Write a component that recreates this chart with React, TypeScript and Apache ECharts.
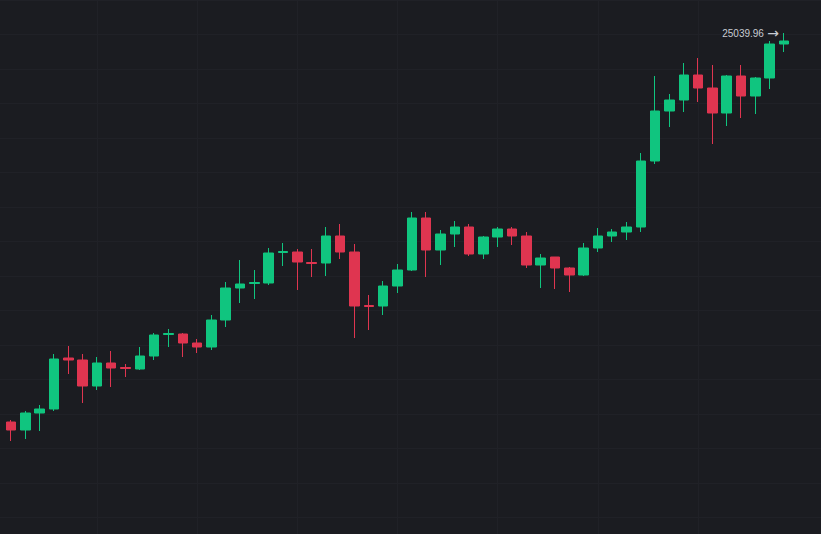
import React, { useEffect, useRef } from "react";
import * as echarts from "echarts";

const categories = [
  "01-01","01-02","01-03","01-04","01-05","01-06","01-07","01-08","01-09","01-10",
  "01-11","01-12","01-13","01-14","01-15","01-16","01-17","01-18","01-19","01-20",
  "01-21","01-22","01-23","01-24","01-25","01-26","01-27","01-28","01-29","01-30",
  "01-31","02-01","02-02","02-03","02-04","02-05","02-06","02-07","02-08","02-09",
  "02-10","02-11","02-12","02-13","02-14","02-15","02-16","02-17","02-18","02-19",
  "02-20","02-21","02-22","02-23","02-24",
];

const opens = [
  17260, 17100, 17440, 17520, 18540, 18500, 17980, 18440, 18350, 18320,
  18580, 19010, 19020, 18840, 18760, 19300, 19940, 20030, 20040, 20650,
  20660, 20450, 20440, 20980, 20660, 19590, 19580, 19980, 20300, 21340,
  20700, 21020, 21160, 20620, 20960, 21120, 20980, 20400, 20560, 20340,
  20200, 20740, 20980, 21060, 21160, 22480, 23480, 23700, 24200, 23940,
  23440, 24180, 23780, 24140, 24820,
];

const closes = [
  17100, 17440, 17520, 18520, 18500, 17980, 18440, 18340, 18330, 18580,
  19000, 19030, 18840, 18760, 19300, 19940, 20020, 20050, 20640, 20670,
  20460, 20430, 20980, 20660, 19580, 19570, 19980, 20300, 21340, 20700,
  21020, 21160, 20620, 20960, 21120, 20980, 20400, 20540, 20340, 20200,
  20740, 20980, 21060, 21160, 22480, 23480, 23700, 24200, 23940, 23440,
  24180, 23780, 24140, 24820, 24880,
];

const lows = [
  16880, 16920, 17080, 17480, 18220, 17640, 17900, 17960, 18160, 18300,
  18500, 18760, 18560, 18640, 18700, 19160, 19640, 19720, 20000, 20380,
  19900, 20160, 20180, 20520, 18940, 19100, 19400, 19840, 20280, 20160,
  20400, 20760, 20580, 20520, 20760, 20800, 20340, 19940, 19920, 19860,
  20180, 20660, 20860, 20900, 21060, 22420, 23160, 23460, 23660, 22820,
  23180, 23340, 23420, 23920, 24660,
];

const highs = [
  17300, 17480, 17600, 18620, 18780, 18620, 18560, 18680, 18420, 18760,
  19040, 19120, 19040, 18920, 19400, 20060, 20500, 20300, 20740, 20840,
  20720, 20720, 21160, 21220, 20820, 19800, 20080, 20420, 21460, 21460,
  21100, 21280, 21220, 20980, 21160, 21160, 21060, 20620, 20560, 20360,
  20840, 21140, 21120, 21260, 22640, 24180, 23820, 24440, 24540, 24400,
  24200, 24400, 24160, 24880, 25039.96,
];

const lastPriceLabel = 25039.96;

const UP = "#10c57f";
const DOWN = "#df3550";
const BG = "#1b1c21";
const GRIDLINE = "#202127";

const hiddenAxis = {
  axisLine: { show: false },
  axisTick: { show: false },
  axisLabel: { show: false },
};

export default function App() {
  const ref = useRef<HTMLDivElement>(null);

  useEffect(() => {
    if (!ref.current) return;
    const chart = echarts.init(ref.current, undefined, { renderer: "svg" });
    const data = opens.map((o, i) => [o, closes[i], lows[i], highs[i]]);
    chart.setOption({
      animation: false,
      backgroundColor: BG,
      grid: [
        { left: 11, right: 37, top: 0, bottom: 0, containLabel: false },
        { left: 0, right: 0, top: 0, bottom: 0, containLabel: false },
      ],
      xAxis: [
        {
          type: "category",
          gridIndex: 0,
          data: categories,
          boundaryGap: false,
          ...hiddenAxis,
          splitLine: {
            show: true,
            interval: (i: number) => i % 7 === 6,
            lineStyle: { color: GRIDLINE, width: 1 },
          },
        },
        {
          type: "value",
          gridIndex: 1,
          min: 0,
          max: 821,
          ...hiddenAxis,
          splitLine: { show: false },
        },
      ],
      yAxis: [
        {
          type: "value",
          gridIndex: 0,
          min: 15020,
          max: 25700,
          ...hiddenAxis,
          splitLine: { show: false },
        },
        {
          type: "value",
          gridIndex: 1,
          min: 0,
          max: 1068,
          interval: 69,
          inverse: true,
          ...hiddenAxis,
          splitLine: { show: true, lineStyle: { color: GRIDLINE, width: 1 } },
        },
      ],
      series: [
        {
          type: "candlestick",
          xAxisIndex: 0,
          yAxisIndex: 0,
          data,
          barWidth: 10,
          clip: false,
          z: 5,
          itemStyle: {
            color: UP,
            color0: DOWN,
            borderColor: UP,
            borderColor0: DOWN,
            borderWidth: 1,
          },
          markPoint: {
            symbol: "circle",
            symbolSize: 0,
            silent: true,
            data: [
              {
                coord: [categories[categories.length - 1], lastPriceLabel],
                value: lastPriceLabel,
              },
            ],
            label: {
              show: true,
              position: "left",
              distance: 5,
              formatter: () => `{v|${lastPriceLabel.toFixed(2)}} {a|→}`,
              rich: {
                v: {
                  color: "#c8cbd1",
                  fontSize: 10,
                  fontFamily: "Liberation Sans, Arial, sans-serif",
                },
                a: {
                  color: "#c8cbd1",
                  fontSize: 14,
                  fontFamily: "DejaVu Sans, sans-serif",
                },
              },
            },
          },
        },
      ],
    });
    return () => chart.dispose();
  }, []);

  return (
    <div
      ref={ref}
      style={{ position: "fixed", left: 0, top: 0, width: 821, height: 534, background: BG }}
    />
  );
}
